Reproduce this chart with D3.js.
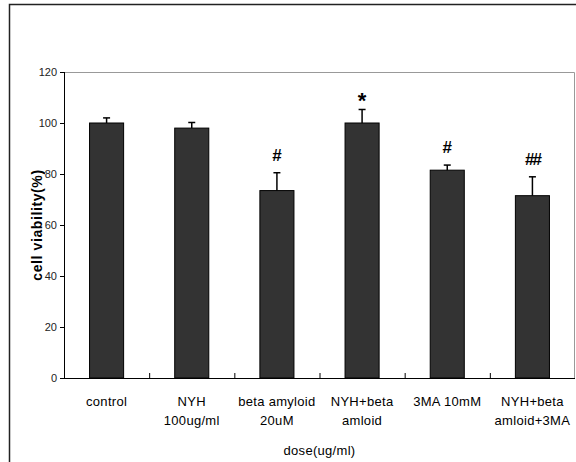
<!DOCTYPE html>
<html>
<head>
<meta charset="utf-8">
<script src="https://cdn.jsdelivr.net/npm/d3@7"></script>
<style>
  body { margin: 0; background: #fff; }
  text { font-family: "Liberation Sans", Arial, sans-serif; }
</style>
</head>
<body>
<div id="chart"></div>
<script>
// chart data
const categories = [
    ["control"],
    ["NYH", "100ug/ml"],
    ["beta amyloid", "20uM"],
    ["NYH+beta", "amloid"],
    ["3MA 10mM"],
    ["NYH+beta", "amloid+3MA"]
];
const viability = [100, 98, 73.5, 100, 81.5, 71.5];
const errors = [2, 2.2, 7, 5.3, 2, 7.4];
const marks = ["", "", "#", "*", "#", "##"];
const yTicks = [0, 20, 40, 60, 80, 100, 120];

const width = 576, height = 462;
const margin = {top: 72, right: 1, bottom: 84, left: 64};

const svg = d3.select("#chart").append("svg")
    .attr("width", width)
    .attr("height", height);

// outer frame, runs off the right and bottom edges
svg.append("rect")
    .attr("x", 9.5).attr("y", 4.5)
    .attr("width", 700).attr("height", 700)
    .attr("fill", "none")
    .attr("stroke", "#222")
    .attr("stroke-width", 1.5);

const xScale = d3.scaleBand()
    .domain(d3.range(categories.length))
    .range([margin.left, width - margin.right])
    .padding(0);

const yScale = d3.scaleLinear()
    .domain([0, 120])
    .range([height - margin.bottom, margin.top]);

// plot border (top and right are grey)
svg.append("path")
    .attr("d", `M${margin.left},${margin.top + 0.5}H${width - margin.right - 0.5}V${height - margin.bottom}`)
    .attr("fill", "none")
    .attr("stroke", "#999")
    .attr("stroke-width", 1);

// y axis
const yAxis = d3.axisLeft(yScale)
    .tickValues(yTicks)
    .tickSize(4)
    .tickPadding(3);

const gy = svg.append("g")
    .attr("transform", `translate(${margin.left},0)`)
    .call(yAxis);
gy.select(".domain").attr("stroke", "#000").attr("d", `M0.5,${margin.top}V${height - margin.bottom}`);
gy.selectAll(".tick line").attr("stroke", "#000");
gy.selectAll(".tick text")
    .attr("fill", "#222")
    .style("font-size", "11px");

// x axis: ticks at band boundaries, pointing up into the plot
const boundaries = d3.range(1, categories.length).map(i => xScale(i));
const gx = svg.append("g")
    .attr("transform", `translate(0,${height - margin.bottom})`);
gx.append("line")
    .attr("x1", margin.left).attr("x2", width - margin.right)
    .attr("y1", 0.5).attr("y2", 0.5)
    .attr("stroke", "#000");
gx.selectAll(".xtick")
    .data(boundaries)
    .enter()
    .append("line")
    .attr("x1", d => d + 0.5).attr("x2", d => d + 0.5)
    .attr("y1", 0).attr("y2", -5)
    .attr("stroke", "#000");

// category labels
const labels = svg.append("g");
categories.forEach(function(lines, i) {
    const cx = xScale(i) + xScale.bandwidth() / 2;
    lines.forEach(function(line, j) {
        labels.append("text")
            .attr("x", cx)
            .attr("y", height - margin.bottom + 28 + j * 19)
            .attr("text-anchor", "middle")
            .attr("fill", "#000")
            .style("font-size", "13px")
            .style("letter-spacing", "0.3px")
            .text(line);
    });
});

// bars
const barWidth = xScale.bandwidth() * 0.4;
svg.append("g")
    .selectAll("rect")
    .data(viability)
    .enter()
    .append("rect")
    .attr("x", (d, i) => xScale(i) + (xScale.bandwidth() - barWidth) / 2)
    .attr("y", d => yScale(d))
    .attr("width", barWidth)
    .attr("height", d => yScale(0) - yScale(d))
    .attr("fill", "#333")
    .attr("stroke", "#000")
    .attr("stroke-width", 1);

// error bars (upper half only)
const err = svg.append("g").attr("stroke", "#000").attr("stroke-width", 1.5);
viability.forEach(function(v, i) {
    const cx = xScale(i) + xScale.bandwidth() / 2;
    err.append("line")
        .attr("x1", cx).attr("x2", cx)
        .attr("y1", yScale(v)).attr("y2", yScale(v + errors[i]));
    err.append("line")
        .attr("x1", cx - 3.5).attr("x2", cx + 3.5)
        .attr("y1", yScale(v + errors[i])).attr("y2", yScale(v + errors[i]));
});

// significance marks above the error bars
const markOffset = {"#": -12, "##": -12, "*": -1};
marks.forEach(function(m, i) {
    if (!m) return;
    svg.append("text")
        .attr("x", xScale(i) + xScale.bandwidth() / 2)
        .attr("y", yScale(viability[i] + errors[i]) + markOffset[m])
        .attr("text-anchor", "middle")
        .attr("fill", "#000")
        .style("font-weight", "bold")
        .style("font-size", m === "*" ? "22px" : "17px")
        .style("letter-spacing", m === "##" ? "-2px" : "0px")
        .text(m);
});

// axis titles
svg.append("text")
    .attr("transform", `translate(42,${(margin.top + height - margin.bottom) / 2}) rotate(-90)`)
    .attr("text-anchor", "middle")
    .style("font-size", "14px")
    .style("font-weight", "bold")
    .style("letter-spacing", "0.6px")
    .text("cell viability(%)");

svg.append("text")
    .attr("x", (margin.left + width - margin.right) / 2)
    .attr("y", 455)
    .attr("text-anchor", "middle")
    .style("font-size", "13px")
    .style("letter-spacing", "0.3px")
    .text("dose(ug/ml)");
</script>
</body>
</html>
